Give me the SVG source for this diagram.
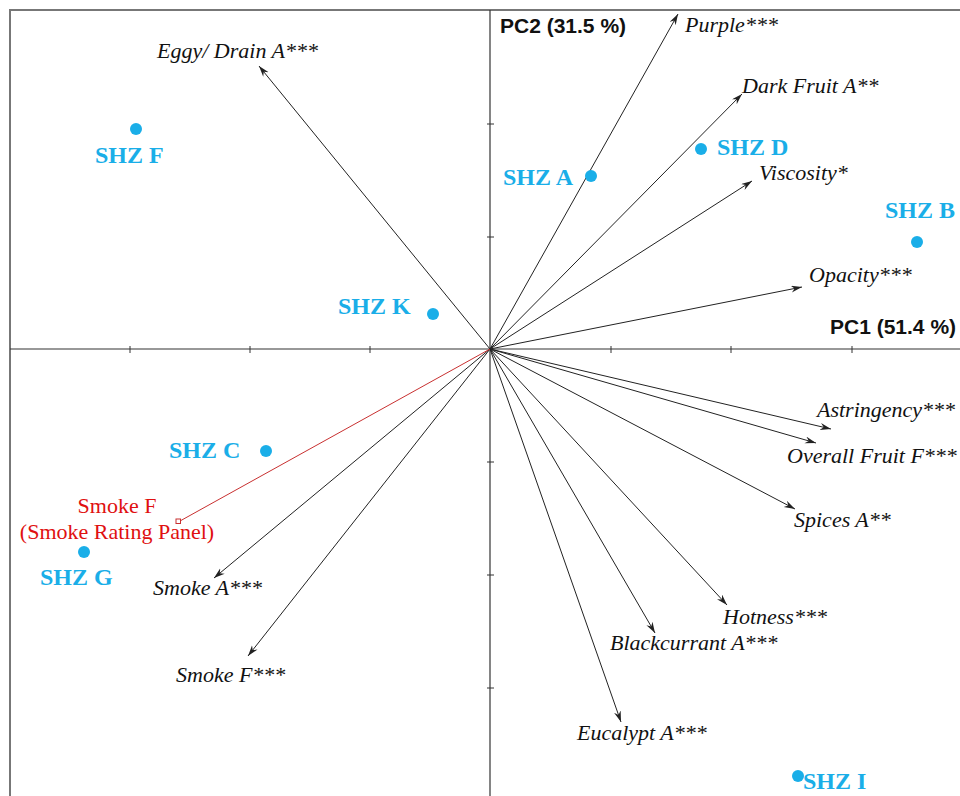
<svg xmlns="http://www.w3.org/2000/svg" width="960" height="796" viewBox="0 0 960 796">
<style>
.ax{stroke:#333;stroke-width:1.2;fill:none}
.tk{stroke:#333;stroke-width:1;fill:none}
.ar{stroke:#222;stroke-width:1;fill:none;marker-end:url(#ah)}
.var{font-family:"Liberation Serif",serif;font-style:italic;font-size:22px;fill:#111}
.obs{font-family:"Liberation Serif",serif;font-weight:bold;font-size:24px;fill:#1aaee8}
.pc{font-family:"Liberation Sans",Arial,sans-serif;font-weight:bold;font-size:21px;fill:#111}
.red{font-family:"Liberation Serif",serif;font-size:22px;fill:#e01010}
.dot{fill:#1aaee8}
</style>
<defs>
<marker id="ah" markerWidth="12" markerHeight="8" refX="11" refY="3.5" orient="auto" markerUnits="userSpaceOnUse">
<path d="M0,0 L11,3.5 L0,7 L3.5,3.5 z" fill="#222"/>
</marker>
</defs>
<rect width="960" height="796" fill="#fff"/>
<g id="frame">
<path d="M10,796 V10 H960" stroke="#777" stroke-width="2" fill="none"/>
</g>
<g id="axes">
<line class="ax" x1="10" y1="349" x2="960" y2="349"/>
<line class="ax" x1="490" y1="10" x2="490" y2="796"/>
<path class="tk" d="M130,346V353 M250,346V353 M370,346V353 M611,346V353 M731,346V353 M852,346V353 M487,124H494 M487,237H494 M487,462H494 M487,575H494 M487,688H494"/>
<text class="pc" x="500" y="33">PC2 (31.5 %)</text>
<text class="pc" x="830" y="334">PC1 (51.4 %)</text>
</g>
<g id="connectors">
<line class="ar" x1="490" y1="349" x2="259" y2="66"/>
<line class="ar" x1="490" y1="349" x2="678" y2="14"/>
<line class="ar" x1="490" y1="349" x2="742" y2="94"/>
<line class="ar" x1="490" y1="349" x2="752" y2="181"/>
<line class="ar" x1="490" y1="349" x2="802" y2="287"/>
<line class="ar" x1="490" y1="349" x2="831" y2="429"/>
<line class="ar" x1="490" y1="349" x2="816" y2="443"/>
<line class="ar" x1="490" y1="349" x2="795" y2="509"/>
<line class="ar" x1="490" y1="349" x2="727" y2="605"/>
<line class="ar" x1="490" y1="349" x2="655" y2="633"/>
<line class="ar" x1="490" y1="349" x2="621" y2="722"/>
<line class="ar" x1="490" y1="349" x2="214" y2="578"/>
<line class="ar" x1="490" y1="349" x2="248" y2="656"/>
<line x1="490" y1="349" x2="180" y2="521" stroke="#c83030" stroke-width="1"/>
<rect x="176" y="519" width="4.5" height="4.5" fill="#fff" stroke="#c83030" stroke-width="1"/>
</g>
<g id="variables">
<text class="var" x="157" y="58">Eggy/ Drain A***</text>
<text class="var" x="685" y="32">Purple***</text>
<text class="var" x="742" y="93">Dark Fruit A**</text>
<text class="var" x="759" y="180">Viscosity*</text>
<text class="var" x="809" y="282">Opacity***</text>
<text class="var" x="817" y="417">Astringency***</text>
<text class="var" x="787" y="463">Overall Fruit F***</text>
<text class="var" x="794" y="527">Spices A**</text>
<text class="var" x="723" y="624">Hotness***</text>
<text class="var" x="610" y="650">Blackcurrant A***</text>
<text class="var" x="577" y="740">Eucalypt A***</text>
<text class="var" x="153" y="595">Smoke A***</text>
<text class="var" x="176" y="682">Smoke F***</text>
</g>
<g id="smoke-panel">
<text class="red" x="117" y="513" text-anchor="middle">Smoke F</text>
<text class="red" x="117" y="539" text-anchor="middle">(Smoke Rating Panel)</text>
</g>
<g id="shz-f"><circle class="dot" cx="136" cy="129" r="6"/><text class="obs" x="95" y="163">SHZ F</text></g>
<g id="shz-a"><circle class="dot" cx="591" cy="176" r="6"/><text class="obs" x="503" y="185">SHZ A</text></g>
<g id="shz-d"><circle class="dot" cx="701" cy="149" r="6"/><text class="obs" x="717" y="155">SHZ D</text></g>
<g id="shz-b"><circle class="dot" cx="917" cy="242" r="6"/><text class="obs" x="885" y="218">SHZ B</text></g>
<g id="shz-k"><circle class="dot" cx="433" cy="314" r="6"/><text class="obs" x="338" y="314">SHZ K</text></g>
<g id="shz-c"><circle class="dot" cx="266" cy="451" r="6"/><text class="obs" x="169" y="458">SHZ C</text></g>
<g id="shz-g"><circle class="dot" cx="84" cy="552" r="6"/><text class="obs" x="40" y="585">SHZ G</text></g>
<g id="shz-i"><circle class="dot" cx="798" cy="776" r="6"/><text class="obs" x="803" y="789">SHZ I</text></g>
</svg>
